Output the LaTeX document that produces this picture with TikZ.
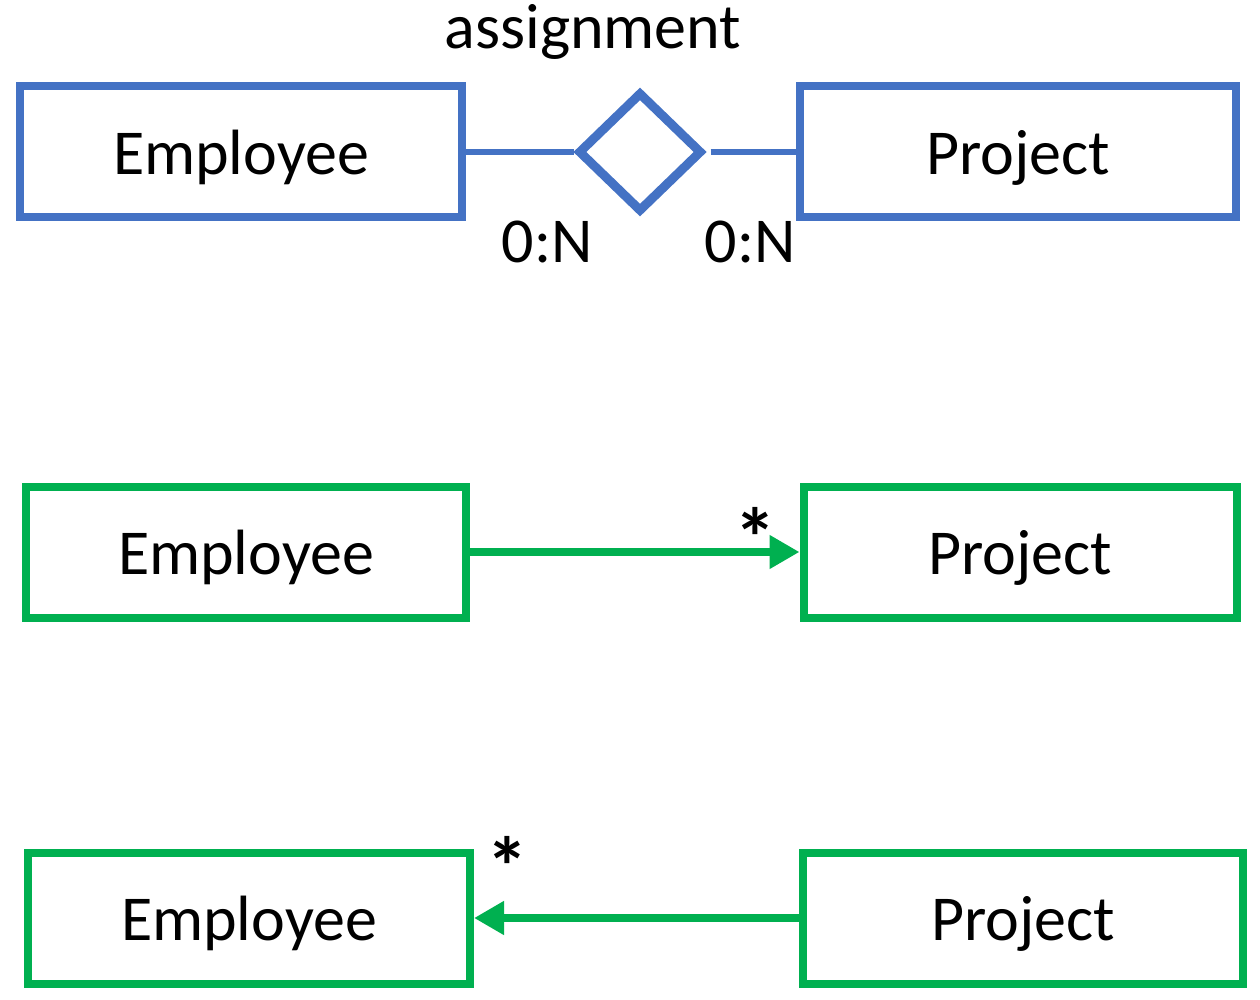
\documentclass[tikz,border=0pt]{standalone}
\usepackage{fontspec}
\setmainfont{Carlito}
\usetikzlibrary{shapes.geometric,arrows.meta}
\definecolor{erblue}{HTML}{4472C4}
\definecolor{umlgreen}{HTML}{00B050}
\tikzset{every node/.style={font=\fontsize{64}{76}\selectfont},
  entity/.style={draw,line width=8pt,minimum width=442pt,minimum height=131pt,inner sep=0pt,text depth=0pt},
  assoc/.style={line width=8pt,-{Triangle[length=30pt,width=32pt]}},
  mult/.style={font=\fontsize{84}{90}\selectfont\bfseries}}
\begin{document}
\begin{tikzpicture}[x=1pt,y=-1pt]
\useasboundingbox (0,0) rectangle (1260,1000);
% ER notation
\node[entity,erblue] (emp1) at (241,152) {\textcolor{black}{Employee}};
\node[entity,erblue,minimum width=436pt] (proj1) at (1018,152) {\textcolor{black}{Project}};
\node[draw=erblue,diamond,line width=9pt,minimum width=124pt,minimum height=120pt,inner sep=0pt]
   (rel) at (640,152) {};
\node (relname) at (593,32) {assignment};
\draw[erblue,line width=6pt] (emp1) -- (rel);
\draw[erblue,line width=6pt,shorten <=4pt] (rel) -- (proj1);
\node (card1) at (547,242) {0:N};
\node (card2) at (750,242) {0:N};
% UML, navigable from employee
\node[entity,umlgreen,minimum width=440pt] (emp2) at (246,552) {\textcolor{black}{Employee}};
\node[entity,umlgreen,minimum width=433pt] (proj2) at (1020,552) {\textcolor{black}{Project}};
\draw[assoc,umlgreen] (emp2) -- (proj2);
\node[mult] (mult2) at (755,537) {*};
% UML, navigable from project
\node[entity,umlgreen] (emp3) at (249,918) {\textcolor{black}{Employee}};
\node[entity,umlgreen,minimum width=440pt] (proj3) at (1023,918) {\textcolor{black}{Project}};
\draw[assoc,umlgreen] (proj3) -- (emp3);
\node[mult] (mult3) at (507,866) {*};
\end{tikzpicture}
\end{document}
